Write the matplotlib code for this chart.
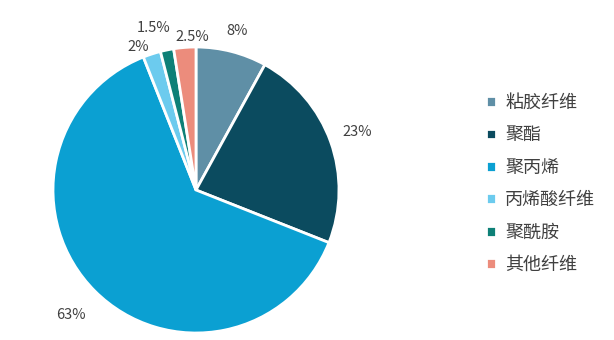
import numpy as np
import matplotlib.pyplot as plt

plt.rcParams['font.family'] = ['Noto Sans CJK SC', 'DejaVu Sans']

categories = ['粘胶纤维', '聚酯', '聚丙烯', '丙烯酸纤维', '聚酰胺', '其他纤维']
values = [8, 23, 63, 2, 1.5, 2.5]
pct_labels = ['8%', '23%', '63%', '2%', '1.5%', '2.5%']
colors = ['#5f8fa6', '#0b4b5f', '#0ba0d2', '#6ccbee', '#0e8077', '#ec8c7c']
label_dist = [1.15, 1.2, 1.24, 1.08, 1.17, 1.07]
label_shift = [0, 0, 0, 4, 3, -3]  # degrees, for the crowded small slices

fig = plt.figure(figsize=(6.14, 3.40), dpi=100)
ax = fig.add_axes([53/614, 7/340, 286/614, 286/340])

wedges, _ = ax.pie(values, colors=colors, startangle=90, counterclock=False,
                   radius=1, wedgeprops=dict(edgecolor='white', linewidth=2))
ax.set_xlim(-1, 1)
ax.set_ylim(-1, 1)
ax.set_aspect('equal')

for w, txt, d, s in zip(wedges, pct_labels, label_dist, label_shift):
    ang = np.deg2rad((w.theta1 + w.theta2) / 2 + s)
    ax.text(d*np.cos(ang), d*np.sin(ang), txt, ha='center', va='center',
            fontsize=10.5, color='#404040', clip_on=False)

fig.legend(wedges, categories, loc='center left',
           bbox_to_anchor=(470/614, 1 - 184/340), frameon=False,
           handlelength=0.55, handleheight=0.55, handletextpad=0.5,
           labelspacing=0.8, fontsize=13, labelcolor='#404040')

fig.savefig('out.png', dpi=100)
